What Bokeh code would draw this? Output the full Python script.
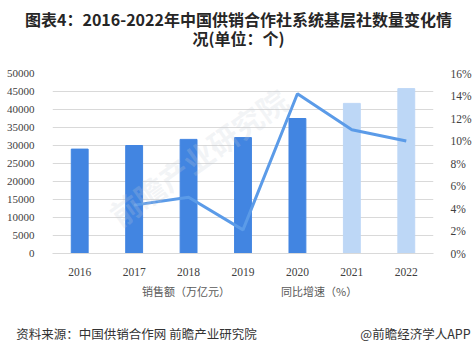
from bokeh.plotting import figure
from bokeh.layouts import column
from bokeh.models import (Range1d, LinearAxis, FixedTicker, PrintfTickFormatter, Label,
                          Legend, LegendItem, ColumnDataSource, FactorRange)
from bokeh.core.properties import value
from bokeh.embed import file_html
from bokeh.resources import INLINE

# ---- data ----
years = ["2016", "2017", "2018", "2019", "2020", "2021", "2022"]
counts = [29000, 30000, 31700, 32200, 37500, 41700, 45800]
bar_colors = ["#4285E1", "#4285E1", "#4285E1", "#4285E1", "#4285E1", "#BDD7F6", "#BDD7F6"]
growth_years = ["2017", "2018", "2019", "2020", "2021", "2022"]
growth = [4.3, 5.0, 2.1, 14.2, 11.0, 10.0]
left_ticks = [0, 5000, 10000, 15000, 20000, 25000, 30000, 35000, 40000, 45000, 50000]
right_ticks = [0, 2, 4, 6, 8, 10, 12, 14, 16]

title1 = "图表4：2016-2022年中国供销合作社系统基层社数量变化情"
title2 = "况(单位：个)"
bar_name = "销售额（万亿元）"
line_name = "同比增速（%）"
source_text = "资料来源：中国供销合作网 前瞻产业研究院"
brand_text = "@前瞻经济学人APP"

BAR_DARK = "#4285E1"
LINE_COL = "#5B9BE8"
W = 475
TOP_H, MAIN_H, BOT_H = 60, 220, 71
FL, FR = 52, 433          # frame left/right edges (canvas px), shared by all panels
CJK = "Noto Sans CJK SC"
tick_color = "#404040"


def blank_fig(y0, h, top_border, bottom_border):
    # panel whose x/y data units equal canvas pixels (frame FL..FR)
    f = figure(width=W, height=h, x_range=Range1d(FL, FR),
               y_range=Range1d(y0 + h - bottom_border, y0 + top_border),
               output_backend="svg", toolbar_location=None, title=None,
               x_axis_location=None, y_axis_location=None,
               min_border_left=FL, min_border_right=W - FR,
               min_border_top=top_border, min_border_bottom=bottom_border)
    f.grid.visible = False
    f.outline_line_color = None
    f.background_fill_color = "white"
    f.border_fill_color = "white"
    return f


def text_axis(tick_pos, label, size, color, standoff, bold=False):
    a = LinearAxis(ticker=FixedTicker(ticks=[tick_pos]),
                   major_label_overrides={tick_pos: label})
    a.axis_line_color = None
    a.major_tick_line_color = None
    a.minor_tick_line_color = None
    a.major_tick_out = 0
    a.major_tick_in = 0
    a.minor_tick_out = 0
    a.minor_tick_in = 0
    a.major_label_standoff = standoff
    a.major_label_text_font = CJK
    a.major_label_text_font_size = size
    a.major_label_text_color = color
    a.major_label_text_font_style = "bold" if bold else "normal"
    return a


# ---- title panel ----
top = blank_fig(0, TOP_H, 28, 0)
top.add_layout(text_axis(238, title1, "16px", "#262626", -2, bold=True), "above")
top.text(x=[238], y=[37], text=[title2], text_align="center", text_baseline="middle",
         text_font=value(CJK), text_font_size="16px", text_font_style="bold",
         text_color="#262626")

# ---- main chart ----
p = figure(width=W, height=MAIN_H, x_range=FactorRange(*years), y_range=Range1d(0, 50000),
           output_backend="svg", toolbar_location=None,
           min_border_left=FL, min_border_right=W - FR, min_border_top=13, min_border_bottom=27)
p.outline_line_color = None
p.background_fill_color = "white"
p.border_fill_color = "white"
p.extra_y_ranges = {"pct": Range1d(0, 16)}

p.ygrid.ticker = FixedTicker(ticks=left_ticks)
p.ygrid.grid_line_color = "#D9D9D9"
p.ygrid.grid_line_width = 1
p.xgrid.grid_line_color = None

# watermark
p.add_layout(Label(x=73, y=18, x_units="screen", y_units="screen", text="前瞻产业研究院",
                   angle=0.62, text_font=CJK, text_font_size="30px",
                   text_color="#C8CDD6", text_alpha=0.22, text_font_style="bold"))

src = ColumnDataSource(dict(x=years, top=counts, color=bar_colors))
bars = p.vbar(x="x", top="top", width=0.31, color="color", source=src)
lsrc = ColumnDataSource(dict(x=growth_years, y=growth))
line = p.line(x="x", y="y", source=lsrc, y_range_name="pct", line_color=LINE_COL, line_width=3)

ax = p.yaxis[0]
ax.ticker = FixedTicker(ticks=left_ticks)
ax.axis_line_color = None
ax.major_tick_line_color = None
ax.minor_tick_line_color = None
ax.major_label_text_font = "Liberation Serif"
ax.major_label_text_font_size = "11px"
ax.major_label_text_color = tick_color
ax.major_label_standoff = 12

xa = p.xaxis[0]
xa.axis_line_color = "#D9D9D9"
xa.major_tick_line_color = None
xa.minor_tick_line_color = None
xa.major_label_text_font = "Liberation Serif"
xa.major_label_text_font_size = "11.5px"
xa.major_label_text_color = tick_color
xa.major_label_standoff = 8

ra = LinearAxis(y_range_name="pct", ticker=FixedTicker(ticks=right_ticks),
                formatter=PrintfTickFormatter(format="%d%%"))
ra.axis_line_color = None
ra.major_tick_line_color = None
ra.minor_tick_line_color = None
ra.major_label_text_font = "Liberation Serif"
ra.major_label_text_font_size = "11.5px"
ra.major_label_text_color = tick_color
ra.major_label_standoff = 11
p.add_layout(ra, "right")

# ---- bottom panel: legend (inside frame) + footer line (axis labels) ----
Y0 = TOP_H + MAIN_H
BOT_BORDER = 38
bot = blank_fig(Y0, BOT_H, 0, BOT_BORDER)
leg_bar = bot.vbar(x=[], top=[], width=1, color=BAR_DARK)
leg_line = bot.line(x=[], y=[], line_color=LINE_COL, line_width=3)
legend = Legend(items=[LegendItem(label=bar_name, renderers=[leg_bar]),
                       LegendItem(label=line_name, renderers=[leg_line])],
                orientation="horizontal", location=(113 - FL, (Y0 + BOT_H - BOT_BORDER) - 299),
                border_line_color=None, background_fill_alpha=0, padding=0, margin=0,
                spacing=22, label_standoff=3, glyph_width=26, glyph_height=6,
                label_text_font=CJK, label_text_font_size="11px",
                label_text_color="#595959", label_height=12)
bot.add_layout(legend, "center")

footer = LinearAxis(ticker=FixedTicker(ticks=[136, 415]),
                    major_label_overrides={136: source_text, 415: brand_text})
footer.axis_line_color = None
footer.major_tick_line_color = None
footer.minor_tick_line_color = None
footer.major_tick_out = 0
footer.major_tick_in = 0
footer.minor_tick_out = 0
footer.minor_tick_in = 0
footer.major_label_standoff = 10
footer.major_label_text_font = CJK
footer.major_label_text_font_size = "12.5px"
footer.major_label_text_color = "#333333"
bot.add_layout(footer, "below")

layout = column(top, p, bot, spacing=0)
open("out.html", "w").write(file_html(layout, INLINE))
